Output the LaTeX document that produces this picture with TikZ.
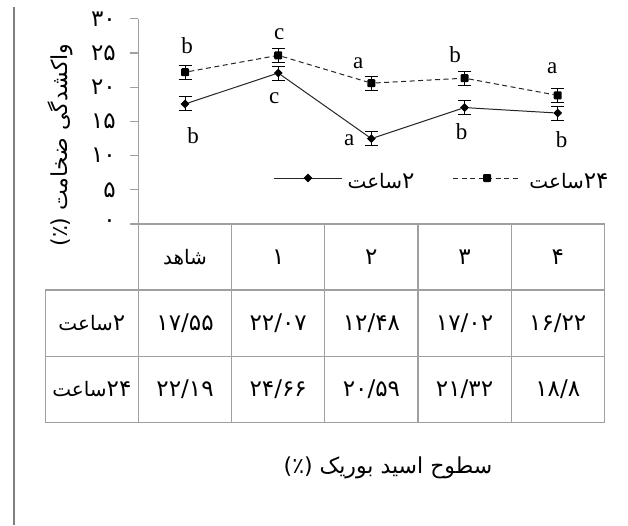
\documentclass[tikz,border=0pt]{standalone}
\usepackage{fontspec}
\setmainfont{Liberation Serif}
\newfontfamily\fafont[Script=Arabic]{DejaVu Sans}
\usetikzlibrary{shapes.geometric}
\definecolor{axgray}{RGB}{160,160,160}
\definecolor{bargray}{RGB}{128,128,128}
\newcommand{\fnum}{\fafont\fontsize{23}{26}\selectfont}
\newcommand{\fword}{\fafont\fontsize{20}{24}\selectfont}
\begin{document}
\begin{tikzpicture}[x=1pt,y=-1pt,
  axisline/.style={draw=axgray,line width=1.2pt},
  cell/.style={draw=axgray,line width=1.2pt,minimum width=93.17pt,minimum height=66.1pt,inner sep=0pt,
    font=\fnum},
  ticklab/.style={anchor=east,inner sep=0pt,font=\fnum},
  lat/.style={anchor=base,inner sep=0pt,font=\fontsize{23}{25}\selectfont},
  falab/.style={inner sep=0pt,font=\fword},
  dmark/.style={diamond,fill=black,inner sep=0pt,minimum size=9pt},
  smark/.style={rectangle,fill=black,inner sep=0pt,minimum size=8pt,rounded corners=1pt},
  serline/.style={draw=black!85,line width=1pt},
  dashline/.style={draw=black!85,line width=1pt,dash pattern=on 5pt off 3.5pt},
  errbar/.style={draw=black,line width=1pt}
]
\useasboundingbox (0,0) rectangle (628,525);
\fill[white] (0,0) rectangle (628,525);
% left page bar
\draw[bargray,line width=2pt] (13.5,7) -- (13.5,525);

% y axis
\draw[axisline] (138.47,19) -- (138.47,224);
\foreach \v/\t in {0/۰,5/۵,10/۱۰,15/۱۵,20/۲۰,25/۲۵,30/۳۰}{
  \draw[axisline] (130,{224-6.84*\v}) -- (138.47,{224-6.84*\v});
  \node[ticklab] (tk\v) at (116,{224-6.84*\v}) {\t};
}
% y label
\node[falab,rotate=90,font=\fafont\fontsize{22}{24}\selectfont] (ylab) at (60,145) {\hbox{(٪)}\ \hbox{ضخامت}\ \hbox{واکشدگی}};

% table
\node[cell,font=\fword] (h0) at (185.05,257) {شاهد};
\node[cell] (h1) at (278.22,257) {۱};
\node[cell] (h2) at (371.39,257) {۲};
\node[cell] (h3) at (464.56,257) {۳};
\node[cell] (h4) at (557.73,257) {۴};
\node[cell,font=\fword] (r0) at (91.88,323.1) {\hbox{ساعت}\hbox{\fnum ۲}};
\node[cell] (r1) at (185.05,323.1) {۱۷/۵۵};
\node[cell] (r2) at (278.22,323.1) {۲۲/۰۷};
\node[cell] (r3) at (371.39,323.1) {۱۲/۴۸};
\node[cell] (r4) at (464.56,323.1) {۱۷/۰۲};
\node[cell] (r5) at (557.73,323.1) {۱۶/۲۲};
\node[cell,font=\fword] (s0) at (91.88,389.2) {\hbox{ساعت}\hbox{\fnum ۲۴}};
\node[cell] (s1) at (185.05,389.2) {۲۲/۱۹};
\node[cell] (s2) at (278.22,389.2) {۲۴/۶۶};
\node[cell] (s3) at (371.39,389.2) {۲۰/۵۹};
\node[cell] (s4) at (464.56,389.2) {۲۱/۳۲};
\node[cell] (s5) at (557.73,389.2) {۱۸/۸};

% error bars
\foreach \x/\v in {185.05/17.55,278.22/22.07,371.39/12.48,464.56/17.02,557.73/16.22,
                   185.05/22.19,278.22/24.66,371.39/20.59,464.56/21.32,557.73/18.8}{
  \draw[errbar] (\x,{224-6.84*\v-7}) -- (\x,{224-6.84*\v+7});
  \draw[errbar] (\x-6.5,{224-6.84*\v-7}) -- (\x+6.5,{224-6.84*\v-7});
  \draw[errbar] (\x-6.5,{224-6.84*\v+7}) -- (\x+6.5,{224-6.84*\v+7});
}

% data points
\node[dmark] (a1) at (185.05,{224-6.84*17.55}) {};
\node[dmark] (a2) at (278.22,{224-6.84*22.07}) {};
\node[dmark] (a3) at (371.39,{224-6.84*12.48}) {};
\node[dmark] (a4) at (464.56,{224-6.84*17.02}) {};
\node[dmark] (a5) at (557.73,{224-6.84*16.22}) {};
\node[smark] (b1) at (185.05,{224-6.84*22.19}) {};
\node[smark] (b2) at (278.22,{224-6.84*24.66}) {};
\node[smark] (b3) at (371.39,{224-6.84*20.59}) {};
\node[smark] (b4) at (464.56,{224-6.84*21.32}) {};
\node[smark] (b5) at (557.73,{224-6.84*18.8}) {};
\draw[serline] (a1) -- (a2) -- (a3) -- (a4) -- (a5);
\draw[dashline] (b1) -- (b2) -- (b3) -- (b4) -- (b5);

% letters
\node[lat] (l1) at (187,53) {b};
\node[lat] (l2) at (193,143) {b};
\node[lat] (l3) at (279.3,39) {c};
\node[lat] (l4) at (274.3,103) {c};
\node[lat] (l5) at (358.3,68) {a};
\node[lat] (l6) at (349.3,145) {a};
\node[lat] (l7) at (455,62) {b};
\node[lat] (l8) at (461.7,139) {b};
\node[lat] (l9) at (552.3,73) {a};
\node[lat] (l10) at (561.7,147) {b};

% legend
\coordinate (la1) at (274,178);
\coordinate (la2) at (342,178);
\draw[serline] (la1) -- (la2);
\node[dmark] (lam) at (308,178) {};
\node[falab] (lat1) at (381,181) {\hbox{ساعت}\hbox{\fnum ۲}};
\coordinate (lb1) at (453,178);
\coordinate (lb2) at (520,178);
\draw[dashline] (lb1) -- (lb2);
\node[smark] (lbm) at (487,178) {};
\node[falab] (lat2) at (569,181) {\hbox{ساعت}\hbox{\fnum ۲۴}};

% caption
\node[falab,font=\fafont\fontsize{22}{24}\selectfont] (cap) at (388,468) {\hbox{(٪)}\ \hbox{بوریک}\ \hbox{اسید}\ \hbox{سطوح}};
\end{tikzpicture}
\end{document}
